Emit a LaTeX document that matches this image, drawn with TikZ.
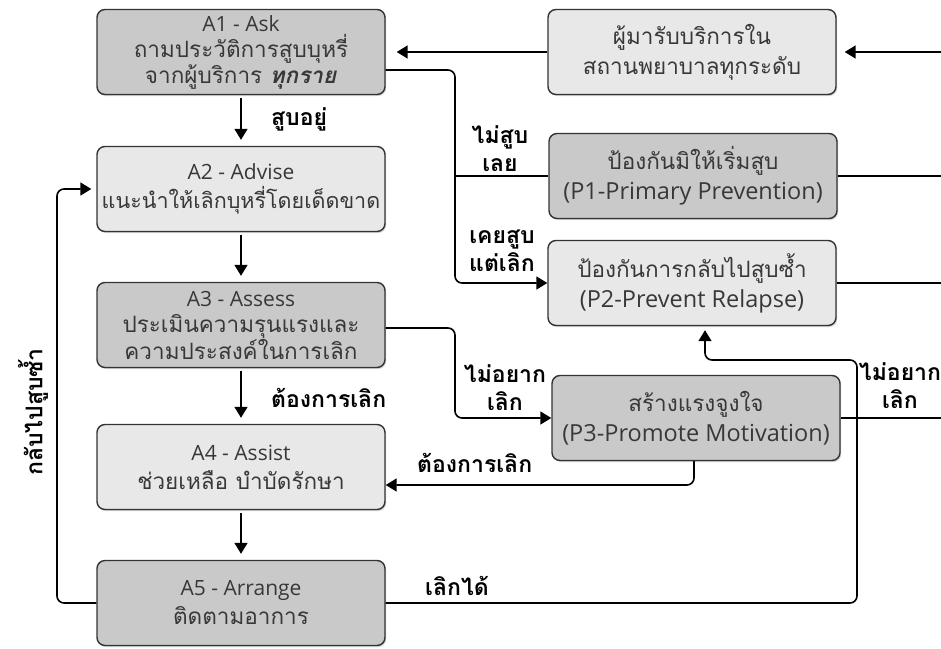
\documentclass[tikz,border=0pt]{standalone}
\usepackage{fontspec}
\setmainfont{Open Sans}
\newfontfamily\thai[Script=Thai]{Loma}
\usetikzlibrary{arrows.meta,shadows,calc}
\begin{document}
\begin{tikzpicture}[x=1pt,y=-1pt,
  box/.style={draw=black!80, line width=1.4pt, rounded corners=8pt,
    minimum width=288pt, minimum height=85pt, align=center, inner sep=0pt,
    text=black!78, font=\fontsize{21}{26}\selectfont,
    drop shadow={shadow xshift=1.2pt, shadow yshift=-1.5pt, opacity=0.35}},
  dark/.style={box, fill=black!21},
  light/.style={box, fill=black!9},
  conn/.style={line width=1.6pt, rounded corners=7pt},
  arr/.style={conn, -{Triangle[length=11pt,width=13pt]}},
  lbl/.style={font=\thai\bfseries\fontsize{23}{28}\selectfont, align=center, inner sep=0pt}
]
\fill[white] (0,0) rectangle (941,648);
\useasboundingbox (0,0) rectangle (941,648);
\newcommand\tl[1]{{\thai\fontsize{22.5}{26}\selectfont #1}}
\newcommand\tls[1]{{\thai\fontsize{21.5}{26}\selectfont #1}}
\newcommand\pl[1]{{\fontsize{23.5}{26}\selectfont #1}}

% A boxes
\node[dark]  (A1) at (241,52)  {A1 - Ask\\\tl{ถามประวัติการสูบบุหรี่}\\\tl{จากผู้บริการ \textbf{\textit{ทุกราย}}}};
\node[light] (A2) at (241,189) {A2 - Advise\\[3pt]\tls{แนะนำให้เลิกบุหรี่โดยเด็ดขาด}};
\node[dark]  (A3) at (241,325) {A3 - Assess\\\tl{ประเมินความรุนแรงและ}\\\tl{ความประสงค์ในการเลิก}};
\node[light] (A4) at (241,467) {A4 - Assist\\[3pt]\tl{ช่วยเหลือ บำบัดรักษา}};
\node[dark]  (A5) at (241,603) {A5 - Arrange\\[3pt]\tl{ติดตามอาการ}};

% right boxes
\node[light] (S)  at (692,52)  {\tl{ผู้มารับบริการใน}\\[4pt]\tl{สถานพยาบาลทุกระดับ}};
\node[dark]  (P1) at (693,176) {\tl{ป้องกันมิให้เริ่มสูบ}\\[4pt]\pl{(P1-Primary Prevention)}};
\node[light] (P2) at (692,283) {\tl{ป้องกันการกลับไปสูบซ้ำ}\\[4pt]\pl{(P2-Prevent Relapse)}};
\node[dark]  (P3) at (696,418) {\tl{สร้างแรงจูงใจ}\\[4pt]\pl{(P3-Promote Motivation)}};

\coordinate (redge) at (941,0);
\coordinate (bx) at (455,0);
\coordinate (lx) at (57,0);
\coordinate (rx) at (857,0);

% incoming from right
\draw[arr, shorten >=8pt] (redge |- S.east) -- (S.east);
\draw[arr, shorten >=11pt] (S.west) -- (A1.east |- S.west);

% vertical A chain
\draw[arr, shorten <=3pt, shorten >=6pt] (A1.south) -- (A2.north);
\draw[arr, shorten <=3pt, shorten >=6pt] (A2.south) -- (A3.north);
\draw[arr, shorten <=3pt, shorten >=6pt] (A3.south) -- (A4.north);
\draw[arr, shorten <=3pt, shorten >=6pt] (A4.south) -- (A5.north);

% A1 branches
\draw[arr] ($(A1.east)+(0,18)$) -| (bx |- P2.west) -- (P2.west);
\draw[conn] (bx |- P1.west) -- (P1.west);

% to right edge
\draw[conn] (P1.east) -- (redge |- P1.east);
\draw[conn] (P2.east) -- (redge |- P2.east);
\draw[conn] (P3.east) -- (redge |- P3.east);

% A3 -> P3
\draw[arr] ($(A3.east)+(0,3)$) -| (bx |- P3.west) -- (P3.west);

% P3 -> A4
\draw[arr] ($(P3.south)+(-2,0)$) |- ($(A4.east)+(0,18)$);

% A5 -> P2
\draw[arr, shorten >=4pt] (A5.east) -| (rx |- 0,360) -| ($(P2.south)+(13,0)$);

% A5 -> A2 loop
\draw[arr, shorten >=5pt] (A5.west) -| (lx |- A2.west) -- (A2.west);

% labels
\node[lbl, anchor=west] (l1) at (271,119) {สูบอยู่};
\node[lbl] (l2) at (500,149) {ไม่สูบ\\เลย};
\node[lbl] (l3) at (502,251) {เคยสูบ\\แต่เลิก};
\node[lbl] (l4) at (505,388) {ไม่อยาก\\เลิก};
\node[lbl, anchor=west] (l5) at (271,398) {ต้องการเลิก};
\node[lbl, anchor=west] (l6) at (417,463) {ต้องการเลิก};
\node[lbl, anchor=west] (l7) at (425,586) {เลิกได้};
\node[lbl] (l8) at (900,386) {ไม่อยาก\\เลิก};
\node[lbl, rotate=90] (l9) at (33,412) {กลับไปสูบซ้ำ};
\end{tikzpicture}
\end{document}
